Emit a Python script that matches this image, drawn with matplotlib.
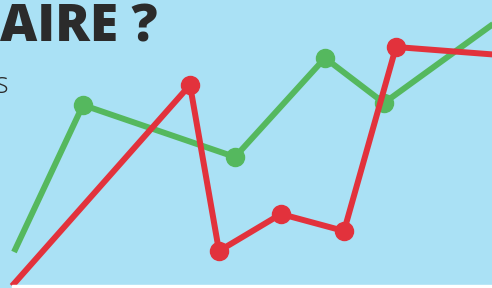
"""Green vs red line chart on a light blue poster background."""
import matplotlib.pyplot as plt

# values in chart units (x: 0..492, y: 0..288 upward)
green_x = [14, 83, 235, 325, 384, 500]
green_y = [36, 183, 131, 230, 185, 269]
red_x = [12, 190, 219, 281, 344, 396, 500]
red_y = [2, 203, 37, 74, 57, 241, 233]

title_text = "AIRE ?"
side_text = "s"

BG = "#aae1f5"
GREEN = "#55b85e"
RED = "#e2323c"
DARK = "#2b2b2b"


def plot():
    """Draw the chart."""
    fig = plt.figure(figsize=(4.92, 2.88), dpi=100)
    fig.patch.set_facecolor(BG)
    ax = fig.add_axes([0, 0, 1, 1])
    ax.set_facecolor(BG)
    ax.set_xlim(0, 492)
    ax.set_ylim(0, 288)
    ax.axis("off")

    ax.plot(green_x, green_y, color=GREEN, lw=4.3, solid_capstyle="butt", zorder=2)
    ax.plot(green_x[1:-1], green_y[1:-1], "o", color=GREEN, ms=13, zorder=2)
    ax.plot(red_x, red_y, color=RED, lw=4.3, solid_capstyle="butt", zorder=3)
    ax.plot(red_x[1:-1], red_y[1:-1], "o", color=RED, ms=13, zorder=3)

    # thin white strip at the bottom
    ax.axhspan(0, 3, xmin=12 / 492, xmax=1, color="white", zorder=4)

    ax.text(157, 246, title_text, ha="right", va="baseline", fontsize=37,
            fontweight=800, family="Open Sans", color=DARK)
    ax.text(-5, 195, side_text, ha="left", va="baseline", fontsize=21,
            fontweight="light", family="Open Sans", color=DARK)

    fig.savefig("out.png", dpi=100, facecolor=BG)


plot()
